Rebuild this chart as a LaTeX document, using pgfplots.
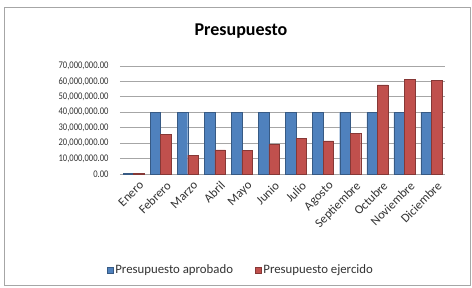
\documentclass[border=0pt]{standalone}
\usepackage{pgfplots}
\pgfplotsset{compat=1.18}
\usepackage{fontspec}
\setmainfont{Carlito}
\newfontfamily\condensed[FakeStretch=0.84]{Carlito}
\definecolor{cblue}{HTML}{4F81BD}
\definecolor{cred}{HTML}{C0504D}
\definecolor{gridc}{HTML}{A6A6A6}
\begin{document}
\begin{tikzpicture}[x=1pt,y=1pt]
\useasboundingbox (0,0) rectangle (472,288);
\draw[gray!70] (4,3) rectangle (470,281);
\node[font=\fontsize{18}{20}\selectfont\bfseries] at (241,257) {Presupuesto};
\begin{axis}[
  at={(120pt,114pt)}, anchor=south west,
  scale only axis, width=325pt, height=108pt,
  ymin=0, ymax=70000000, ytick={0,10000000,20000000,30000000,40000000,50000000,60000000,70000000},
  scaled y ticks=false,
  yticklabel style={/pgf/number format/fixed, /pgf/number format/fixed zerofill, /pgf/number format/precision=2, /pgf/number format/1000 sep={,}, /pgf/number format/assume math mode=true, xshift=-8pt, font=\condensed\fontsize{10.2}{12}\selectfont},
  xmin=-0.5, xmax=11.5,
  xtick={0,...,11},
  xticklabels={Enero,Febrero,Marzo,Abril,Mayo,Junio,Julio,Agosto,Septiembre,Octubre,Noviembre,Diciembre},
  xticklabel style={rotate=45, anchor=north east, inner sep=1pt, xshift=0pt, yshift=-7pt, font=\fontsize{12.5}{14}\selectfont},
  tick label style={text=black!80},
  major tick length=0pt,
  ymajorgrids, grid style={gridc, line width=0.8pt},
  axis line style={draw=none},
  ybar=0pt, bar width=10.5pt,
  legend style={at={(-0.05,-0.889)}, anchor=west, draw=none, legend columns=2, font=\fontsize{12.8}{14}\selectfont, text=black!80, /tikz/every even column/.append style={column sep=20pt}},
  legend image code/.code={\fill[#1] (0pt,-3pt) rectangle (6pt,3pt);},
  clip=false,
]
\addplot[fill=cblue, draw=cblue!70!black] coordinates {(0,400000) (1,40000000) (2,40000000) (3,40000000) (4,40000000) (5,40000000) (6,40000000) (7,40000000) (8,40000000) (9,40000000) (10,40000000) (11,40000000)};
\addplot[fill=cred, draw=cred!70!black] coordinates {(0,400000) (1,25600000) (2,12200000) (3,15600000) (4,15200000) (5,19200000) (6,22900000) (7,21400000) (8,26300000) (9,57700000) (10,61500000) (11,60500000)};
\legend{Presupuesto aprobado, Presupuesto ejercido}
\end{axis}
\end{tikzpicture}
\end{document}
